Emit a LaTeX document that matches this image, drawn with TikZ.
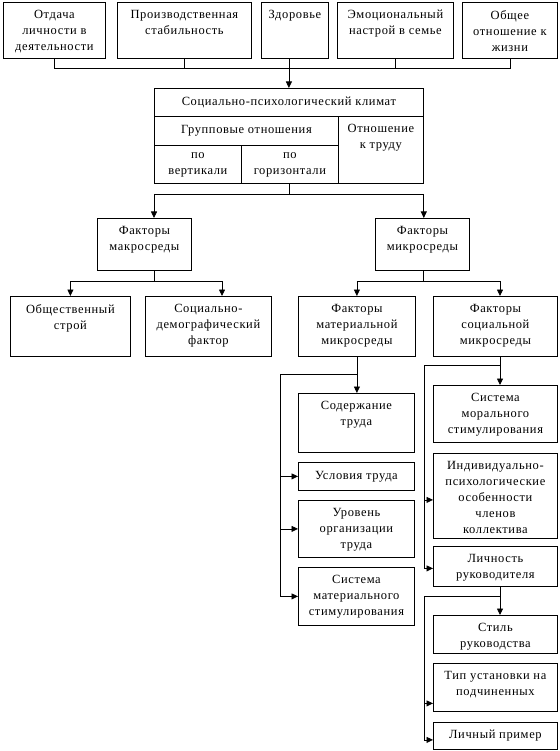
\documentclass[tikz,border=0pt]{standalone}
\usepackage{fontspec}
\setmainfont{Liberation Serif}[LetterSpace=5]
\usetikzlibrary{arrows.meta,calc}
\tikzset{
  boxst/.style={draw, line width=0.8pt, inner sep=0pt, rectangle},
  txt/.style={align=center, inner sep=0pt, font=\fontsize{12.5}{16}\selectfont},
  arr/.style={-{Triangle[length=6.5pt,width=6pt]}},
  every path/.style={line width=0.8pt}
}
% box with text near top
\newcommand\tbox[6]{%
  \node[boxst, anchor=north west, minimum width={(#4-#2)*1pt}, minimum height={(#5-#3)*1pt}] (#1) at (#2,#3) {};
  \node[txt, anchor=north] (#1t) at ([yshift=-8pt]#1.north) {#6};}
% box with centred text
\newcommand\cbox[6]{%
  \node[boxst, anchor=north west, minimum width={(#4-#2)*1pt}, minimum height={(#5-#3)*1pt}] (#1) at (#2,#3) {};
  \node[txt] (#1t) at (#1.center) {#6};}
\begin{document}
\begin{tikzpicture}[x=1pt,y=-1pt]
\useasboundingbox (0,0) rectangle (559,751);
% top row
\tbox{o1}{3}{2}{105}{58}{Отдача\\личности в\\деятельности}
\tbox{o2}{117}{2}{251}{58}{Производственная\\стабильность}
\tbox{o3}{261}{2}{328}{58}{Здоровье}
\tbox{o4}{337}{2}{453}{58}{Эмоциональный\\настрой в семье}
\tbox{o5}{462}{2}{557}{58}{Общее\\отношение к\\жизни}
% climate
\node[boxst, anchor=north west, minimum width=269pt, minimum height=95pt] (clim) at (154,88) {};
\cbox{title}{154}{88}{423}{116}{Социально-психологический климат}
\cbox{grp}{154}{116}{338}{145}{Групповые отношения}
\cbox{vert}{154}{145}{241}{183}{по\\вертикали}
\cbox{horiz}{241}{145}{338}{183}{по\\горизонтали}
\tbox{trud}{338}{116}{423}{183}{Отношение\\к труду}
% factors
\tbox{macro}{97}{218}{191}{270}{Факторы\\макросреды}
\tbox{micro}{375}{218}{469}{270}{Факторы\\микросреды}
\tbox{ob}{10}{296}{130}{356}{Общественный\\строй}
\tbox{sd}{145}{296}{271}{356}{Социально-\\демографический\\фактор}
\tbox{fm}{298}{296}{415}{356}{Факторы\\материальной\\микросреды}
\tbox{fs}{433}{296}{557}{356}{Факторы\\социальной\\микросреды}
% material column
\tbox{sod}{298}{393}{414}{452}{Содержание\\труда}
\cbox{usl}{298}{462}{414}{490}{Условия труда}
\tbox{urv}{298}{500}{414}{557}{Уровень\\организации\\труда}
\tbox{sms}{298}{567}{414}{625}{Система\\материального\\стимулирования}
% social column
\tbox{msm}{433}{385}{557}{442}{Система\\морального\\стимулирования}
\tbox{ind}{433}{453}{557}{538}{Индивидуально-\\психологические\\особенности\\членов\\коллектива}
\tbox{lic}{433}{546}{557}{586}{Личность\\руководителя}
\tbox{stl}{433}{615}{557}{653}{Стиль\\руководства}
\tbox{tip}{433}{663}{557}{711}{Тип установки на\\подчиненных}
\cbox{lp}{433}{722}{557}{749}{Личный пример}
% coordinates
\coordinate (bus1) at (290,68);
\coordinate (bus2) at (290,194);
\coordinate (bus3) at (290,281);
\coordinate (sdin) at (222,296);
\coordinate (fsin) at (500,296);
\coordinate (bus4) at (280,374);
\coordinate (bus5) at (424,365);
\coordinate (bus6) at (424,596);
\coordinate (sx) at (500,0);
% top connectors
\draw (o1.south) -- (o1.south |- bus1) -- (o5.south |- bus1) -- (o5.south);
\draw (o2.south) -- (o2.south |- bus1);
\draw (o4.south) -- (o4.south |- bus1);
\draw[arr] (o3.south -| clim.north) -- (clim.north);
% climate to factors
\draw (clim.south) -- (clim.south |- bus2);
\draw (clim.west |- bus2) -- (clim.east |- bus2);
\draw[arr] (clim.west |- bus2) -- (clim.west |- macro.north);
\draw[arr] (clim.east |- bus2) -- (clim.east |- micro.north);
% macro
\draw (clim.west |- macro.south) -- (clim.west |- bus3);
\draw (ob.north |- bus3) -- (sdin |- bus3);
\draw[arr] (ob.north |- bus3) -- (ob.north);
\draw[arr] (sdin |- bus3) -- (sdin);
% micro
\draw (clim.east |- micro.south) -- (clim.east |- bus3);
\draw (fm.north |- bus3) -- (fsin |- bus3);
\draw[arr] (fm.north |- bus3) -- (fm.north);
\draw[arr] (fsin |- bus3) -- (fsin);
% material column
\draw[arr] (fm.south) -- (fm.south |- sod.north);
\draw (fm.south |- bus4) -- (bus4);
\draw[arr] (bus4) |- (usl.west);
\draw[arr] (bus4) |- (urv.west);
\draw[arr] (bus4) |- (sms.west);
% social column
\draw[arr] (sx |- fs.south) -- (sx |- msm.north);
\draw (sx |- bus5) -- (bus5);
\draw[arr] (bus5) |- ([yshift=-4pt]ind.west);
\draw[arr] (bus5) |- ([yshift=-2pt]lic.west);
\draw[arr] (sx |- lic.south) -- (sx |- stl.north);
\draw (sx |- bus6) -- (bus6);
\draw[arr] (bus6) |- ([yshift=-16pt]tip.west);
\draw[arr] (bus6) |- ([yshift=-4pt]lp.west);
\end{tikzpicture}
\end{document}
